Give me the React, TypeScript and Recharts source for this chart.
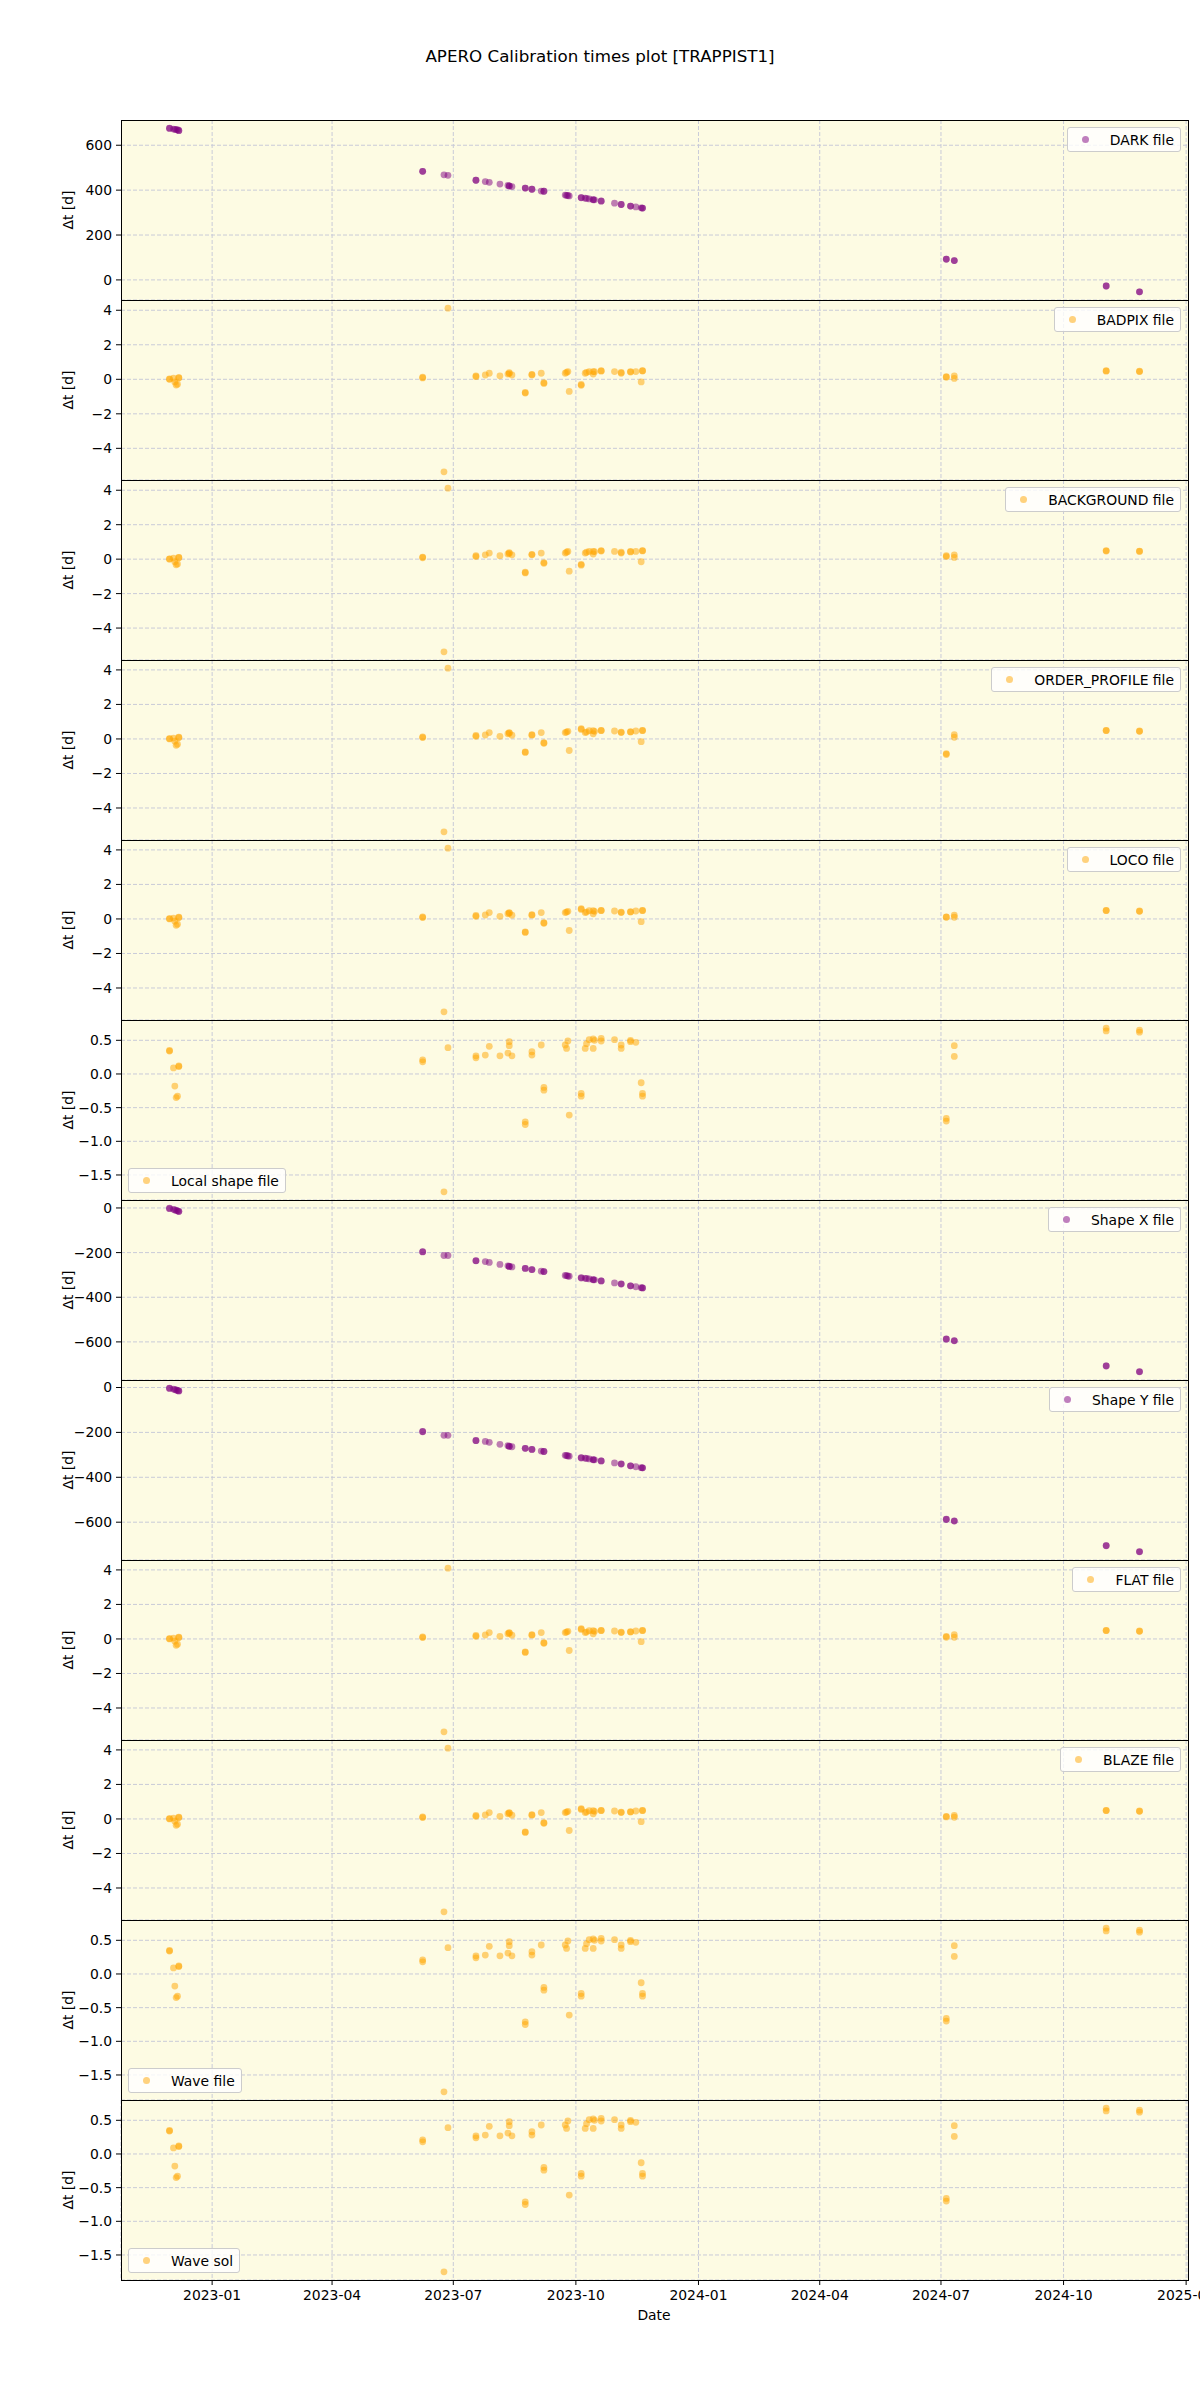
import React from 'react';
import { ScatterChart, Scatter, XAxis, YAxis, CartesianGrid, ReferenceArea, Legend } from 'recharts';

// observation dates (repeated dates = several files on the same night)
const DATES = [
  '2022-11-30', '2022-11-30', '2022-12-03', '2022-12-04', '2022-12-05', '2022-12-06', '2022-12-07', '2022-12-07',
  '2023-06-08', '2023-06-08', '2023-06-24', '2023-06-27',
  '2023-07-18', '2023-07-18', '2023-07-25', '2023-07-28',
  '2023-08-05', '2023-08-11', '2023-08-12', '2023-08-12',
  '2023-08-14', '2023-08-24', '2023-08-24', '2023-08-29',
  '2023-08-29', '2023-09-05', '2023-09-07', '2023-09-07',
  '2023-09-23', '2023-09-24', '2023-09-25', '2023-09-26',
  '2023-10-05', '2023-10-05', '2023-10-08', '2023-10-09',
  '2023-10-11', '2023-10-14', '2023-10-14', '2023-10-15',
  '2023-10-20', '2023-10-20', '2023-10-30', '2023-11-04',
  '2023-11-04', '2023-11-11', '2023-11-11', '2023-11-15',
  '2023-11-19', '2023-11-20', '2023-11-20',
  '2024-07-05', '2024-07-05', '2024-07-11', '2024-07-11',
  '2024-11-02', '2024-11-02', '2024-11-27', '2024-11-27',
];

const DARK = [
  676, 675, 672, 671, 670, 669, 666, 665,
  484, 484, 468, 466, 444, 444, 438, 435,
  427, 421, 419, 418, 416, 409, 409, 404,
  404, 396, 395, 395, 378, 377, 376, 374,
  367, 366, 364, 363, 361, 358, 357, 357,
  352, 351, 342, 336, 336, 329, 329, 325,
  321, 320, 320, 93, 92, 86, 86, -27, -27, -53, -53,
];

const BADPIX = [
  0.02, 0.0, 0.06, -0.15, -0.33, -0.28, 0.1, 0.08,
  0.12, 0.08, -5.36, 4.12, 0.15, 0.2, 0.25, 0.35,
  0.2, 0.3, 0.38, 0.33, 0.25, -0.8, -0.76, 0.25,
  0.28, 0.35, -0.2, -0.24, 0.35, 0.4, 0.45, -0.7,
  -0.3, -0.35, 0.35, 0.4, 0.45, 0.3, 0.45, 0.44,
  0.5, 0.47, 0.45, 0.4, 0.35, 0.45, 0.42, 0.45,
  -0.15, 0.5, 0.48, 0.15, 0.12, 0.2, 0.05, 0.5, 0.47, 0.45, 0.47,
];

const BACKGROUND = [
  0.02, 0.0, 0.06, -0.15, -0.33, -0.28, 0.1, 0.08,
  0.12, 0.08, -5.38, 4.12, 0.15, 0.2, 0.25, 0.35,
  0.2, 0.3, 0.38, 0.33, 0.25, -0.8, -0.76, 0.25,
  0.28, 0.35, -0.2, -0.24, 0.35, 0.4, 0.45, -0.7,
  -0.3, -0.35, 0.35, 0.4, 0.45, 0.3, 0.45, 0.44,
  0.5, 0.47, 0.45, 0.4, 0.35, 0.45, 0.42, 0.45,
  -0.15, 0.5, 0.48, 0.2, 0.15, 0.25, 0.1, 0.5, 0.47, 0.45, 0.47,
];

const ORDER_PROFILE = [
  0.02, 0.0, 0.05, -0.13, -0.37, -0.3, 0.1, 0.08,
  0.12, 0.08, -5.38, 4.1, 0.15, 0.2, 0.23, 0.37,
  0.15, 0.3, 0.37, 0.33, 0.22, -0.75, -0.78, 0.22,
  0.25, 0.37, -0.22, -0.25, 0.37, 0.4, 0.44, -0.67,
  0.6, 0.55, 0.37, 0.4, 0.48, 0.3, 0.48, 0.44,
  0.48, 0.5, 0.46, 0.37, 0.4, 0.4, 0.42, 0.46,
  -0.16, 0.48, 0.5, -0.85, -0.9, 0.25, 0.1, 0.48, 0.5, 0.46, 0.44,
];

const LOCO = [
  0.02, 0.0, 0.05, -0.13, -0.37, -0.3, 0.1, 0.08,
  0.12, 0.08, -5.38, 4.1, 0.15, 0.2, 0.23, 0.37,
  0.15, 0.3, 0.37, 0.33, 0.22, -0.75, -0.78, 0.22,
  0.25, 0.37, -0.22, -0.25, 0.37, 0.4, 0.44, -0.67,
  0.6, 0.55, 0.37, 0.4, 0.48, 0.3, 0.48, 0.44,
  0.48, 0.5, 0.46, 0.37, 0.4, 0.4, 0.42, 0.46,
  -0.16, 0.48, 0.5, 0.12, 0.1, 0.22, 0.1, 0.48, 0.5, 0.46, 0.44,
];

const LOCAL_SHAPE = [
  0.35, 0.34, 0.09, -0.18, -0.35, -0.33, 0.11, 0.12,
  0.21, 0.18, -1.75, 0.39, 0.24, 0.27, 0.28, 0.41,
  0.27, 0.31, 0.48, 0.42, 0.27, -0.71, -0.75, 0.28,
  0.33, 0.43, -0.2, -0.24, 0.43, 0.38, 0.49, -0.61,
  -0.29, -0.33, 0.38, 0.45, 0.51, 0.38, 0.52, 0.5,
  0.49, 0.53, 0.51, 0.38, 0.43, 0.48, 0.5, 0.47,
  -0.13, -0.29, -0.33, -0.66, -0.7, 0.42, 0.26, 0.64, 0.68, 0.62, 0.65,
];

const SHAPE_X = [
  -1, -3, -6, -9, -11, -13, -15, -16,
  -196, -197, -213, -213, -236, -237, -240, -244,
  -253, -259, -262, -262, -264, -271, -271, -276,
  -276, -283, -285, -285, -302, -303, -305, -306,
  -312, -314, -315, -316, -318, -321, -322, -322,
  -327, -327, -336, -340, -341, -349, -349, -353,
  -357, -358, -358, -587, -588, -594, -595, -707, -708, -733, -734,
];

const SHAPE_Y = [
  -3, -4, -7, -9, -11, -13, -15, -15,
  -196, -197, -213, -213, -236, -237, -240, -244,
  -253, -259, -262, -262, -264, -271, -271, -276,
  -276, -283, -285, -285, -302, -303, -305, -306,
  -312, -314, -315, -316, -318, -321, -322, -322,
  -327, -327, -336, -340, -341, -349, -349, -353,
  -357, -358, -358, -587, -588, -594, -595, -704, -705, -731, -732,
];

const FLAT = [
  0.02, 0.0, 0.05, -0.13, -0.37, -0.3, 0.1, 0.08,
  0.12, 0.08, -5.38, 4.1, 0.15, 0.2, 0.23, 0.37,
  0.15, 0.3, 0.37, 0.33, 0.22, -0.75, -0.78, 0.22,
  0.25, 0.37, -0.22, -0.25, 0.37, 0.4, 0.44, -0.67,
  0.6, 0.55, 0.37, 0.4, 0.48, 0.3, 0.48, 0.44,
  0.48, 0.5, 0.46, 0.37, 0.4, 0.4, 0.42, 0.46,
  -0.16, 0.48, 0.5, 0.15, 0.1, 0.25, 0.1, 0.48, 0.5, 0.46, 0.44,
];

const BLAZE = [
  0.02, 0.0, 0.05, -0.13, -0.37, -0.3, 0.1, 0.08,
  0.12, 0.08, -5.38, 4.1, 0.15, 0.2, 0.23, 0.37,
  0.15, 0.3, 0.37, 0.33, 0.22, -0.75, -0.78, 0.22,
  0.25, 0.37, -0.22, -0.25, 0.37, 0.4, 0.44, -0.67,
  0.6, 0.55, 0.37, 0.4, 0.48, 0.3, 0.48, 0.44,
  0.48, 0.5, 0.46, 0.37, 0.4, 0.4, 0.42, 0.46,
  -0.16, 0.48, 0.5, 0.15, 0.12, 0.2, 0.1, 0.48, 0.5, 0.46, 0.44,
];

const WAVE_FILE = [...LOCAL_SHAPE];
const WAVE_SOL = [...LOCAL_SHAPE];

const X_TICKS = [
  '2023-01-01', '2023-04-01', '2023-07-01', '2023-10-01',
  '2024-01-01', '2024-04-01', '2024-07-01', '2024-10-01', '2025-01-01',
];

const TICKS_DARK = [0, 200, 400, 600];
const TICKS_SMALL = [-4, -2, 0, 2, 4];
const TICKS_SHAPE = [-1.5, -1, -0.5, 0, 0.5];
const TICKS_XY = [-600, -400, -200, 0];

const PURPLE = '#800080';
const ORANGE = '#ffa500';
const FONT = '"DejaVu Sans", sans-serif';
const FS = 13.9;

const PANEL_H = 180;
const TOP = 120;
const AXIS_H = 60;

const toTs = (d: string) => Date.parse(d + 'T00:00:00Z');
const allTs = DATES.map(toTs);
const xMin = Math.min(...allTs);
const xMax = Math.max(...allTs);
const xPad = (xMax - xMin) * 0.05;
const X_DOMAIN = [xMin - xPad, xMax + xPad];
const X_TICK_TS = X_TICKS.map(toTs);

type PanelDef = {
  name: string;
  values: number[];
  color: string;
  ticks: number[];
  decimals: number;
  legend: 'tr' | 'bl';
};

const PANELS: PanelDef[] = [
  { name: 'DARK file', values: DARK, color: PURPLE, ticks: TICKS_DARK, decimals: 0, legend: 'tr' },
  { name: 'BADPIX file', values: BADPIX, color: ORANGE, ticks: TICKS_SMALL, decimals: 0, legend: 'tr' },
  { name: 'BACKGROUND file', values: BACKGROUND, color: ORANGE, ticks: TICKS_SMALL, decimals: 0, legend: 'tr' },
  { name: 'ORDER_PROFILE file', values: ORDER_PROFILE, color: ORANGE, ticks: TICKS_SMALL, decimals: 0, legend: 'tr' },
  { name: 'LOCO file', values: LOCO, color: ORANGE, ticks: TICKS_SMALL, decimals: 0, legend: 'tr' },
  { name: 'Local shape file', values: LOCAL_SHAPE, color: ORANGE, ticks: TICKS_SHAPE, decimals: 1, legend: 'bl' },
  { name: 'Shape X file', values: SHAPE_X, color: PURPLE, ticks: TICKS_XY, decimals: 0, legend: 'tr' },
  { name: 'Shape Y file', values: SHAPE_Y, color: PURPLE, ticks: TICKS_XY, decimals: 0, legend: 'tr' },
  { name: 'FLAT file', values: FLAT, color: ORANGE, ticks: TICKS_SMALL, decimals: 0, legend: 'tr' },
  { name: 'BLAZE file', values: BLAZE, color: ORANGE, ticks: TICKS_SMALL, decimals: 0, legend: 'tr' },
  { name: 'Wave file', values: WAVE_FILE, color: ORANGE, ticks: TICKS_SHAPE, decimals: 1, legend: 'bl' },
  { name: 'Wave sol', values: WAVE_SOL, color: ORANGE, ticks: TICKS_SHAPE, decimals: 1, legend: 'bl' },
];

const fmtX = (v: number) => new Date(v).toISOString().slice(0, 7);

// vertical grid lines at the date ticks (upper panels hide their x axis)
const xGridLines = (arg: any) => {
  const scale = arg && arg.xAxis && arg.xAxis.scale;
  if (typeof scale === 'function') return X_TICK_TS.map((t) => scale(t));
  if (scale && typeof scale.map === 'function') return X_TICK_TS.map((t) => scale.map(t));
  const off = arg && arg.offset;
  if (!off) return [];
  const span = X_DOMAIN[1] - X_DOMAIN[0];
  return X_TICK_TS.map((t) => off.left + ((t - X_DOMAIN[0]) / span) * off.width);
};

const YLabel = (props: any) => {
  const vb = props.viewBox || {};
  const cy = vb.height ? vb.y + vb.height / 2 : PANEL_H / 2;
  return (
    <text x={68} y={cy} transform={`rotate(-90, 68, ${cy})`} textAnchor="middle"
      dominantBaseline="central" fontSize={FS} fill="#000">Δt [d]</text>
  );
};

const DateLabel = () => (
  <text x={654} y={PANEL_H + 35} textAnchor="middle" dominantBaseline="central" fontSize={FS} fill="#000">Date</text>
);

const LegendBox = ({ name, color }: { name: string; color: string }) => (
  <div style={{
    position: 'relative', height: 25, boxSizing: 'border-box', border: '1px solid #cccccc',
    borderRadius: 3, background: 'rgba(255,255,255,0.8)', paddingLeft: 42, paddingRight: 6,
    display: 'flex', alignItems: 'center', fontSize: FS, fontFamily: FONT, color: '#000', whiteSpace: 'nowrap',
  }}>
    <span style={{
      position: 'absolute', left: 14, top: 8, width: 7, height: 7, borderRadius: '50%',
      background: color, opacity: 0.5,
    }} />
    {name}
  </div>
);

function Panel({ p, index, last }: { p: PanelDef; index: number; last: boolean }) {
  const data = DATES.map((d, i) => ({ x: toTs(d), y: p.values[i] }));
  const lo = Math.min(...p.values);
  const hi = Math.max(...p.values);
  const pad = (hi - lo) * 0.05;
  const domain = [lo - pad, hi + pad];
  const h = PANEL_H + (last ? AXIS_H : 0);
  const fmtY = (v: number) => (p.decimals ? v.toFixed(p.decimals) : String(v)).replace('-', '\u2212');
  const legendPos = p.legend === 'tr'
    ? { top: 7, right: 19 }
    : { left: 128, bottom: 7 + (last ? AXIS_H : 0) };

  return (
    <div style={{ position: 'absolute', left: 0, top: TOP + index * PANEL_H }}>
      <ScatterChart width={1200} height={h} margin={{ top: 0, right: 12, bottom: 0, left: 0 }}>
        <CartesianGrid fill="#fdfbe3" fillOpacity={1} stroke="#c9cbd8" strokeDasharray="4 2"
          verticalCoordinatesGenerator={last ? undefined : xGridLines} />
        <XAxis
          type="number" dataKey="x" scale="linear" domain={X_DOMAIN} allowDataOverflow
          ticks={X_TICK_TS} interval={0} tickFormatter={fmtX}
          height={last ? AXIS_H : 0}
          tick={last ? { fill: '#000', fontSize: FS } : false}
          tickLine={last ? { stroke: '#000' } : false}
          axisLine={false} tickSize={5} tickMargin={5}
          label={last ? DateLabel : undefined}
        />
        <YAxis
          type="number" dataKey="y" width={121} domain={domain} allowDataOverflow
          ticks={p.ticks} interval={0} tickFormatter={fmtY}
          tick={{ fill: '#000', fontSize: FS }} tickLine={{ stroke: '#000' }}
          axisLine={false} tickSize={5} tickMargin={4}
          label={YLabel}
        />
        <ReferenceArea x1={X_DOMAIN[0]} x2={X_DOMAIN[1]} y1={domain[0]} y2={domain[1]}
          fill="none" stroke="#000" strokeWidth={1} shapeRendering="crispEdges" ifOverflow="visible" />
        <Scatter
          data={data} name={p.name} isAnimationActive={false}
          shape={(s: any) => <circle cx={s.cx} cy={s.cy} r={3.4} fill={p.color} fillOpacity={0.5} />}
        />
        <Legend layout="vertical" align="center" verticalAlign="middle" wrapperStyle={legendPos}
          content={() => <LegendBox name={p.name} color={p.color} />} />
      </ScatterChart>
    </div>
  );
}

export default function App() {
  return (
    <div style={{
      position: 'absolute', left: 0, top: 0, width: 1200, height: 2400, overflow: 'hidden',
      background: '#fff', fontFamily: FONT,
    }}>
      <div style={{
        position: 'absolute', left: 0, top: 46, width: 1200, lineHeight: '20px',
        textAlign: 'center', fontSize: 16.7, color: '#000',
      }}>
        APERO Calibration times plot [TRAPPIST1]
      </div>
      {PANELS.map((p, i) => (
        <Panel key={p.name} p={p} index={i} last={i === PANELS.length - 1} />
      ))}
    </div>
  );
}
